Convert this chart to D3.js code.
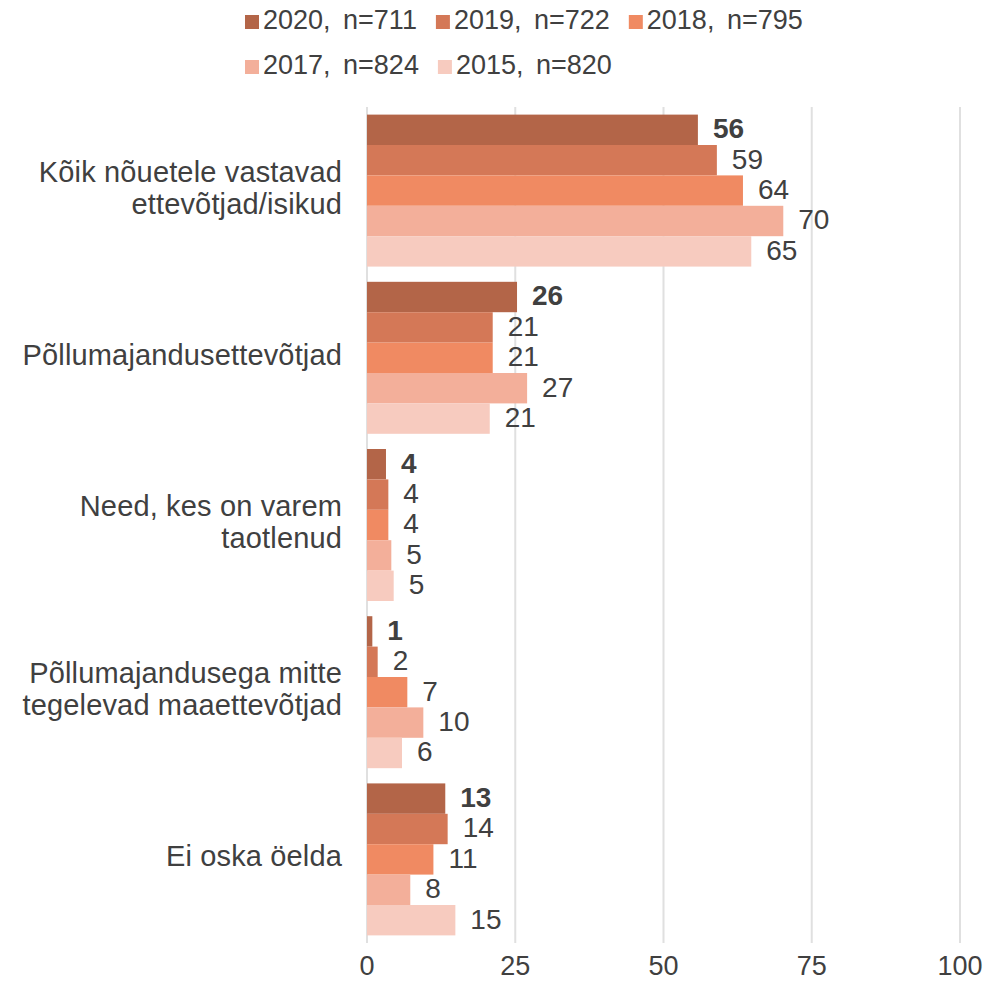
<!DOCTYPE html>
<html>
<head>
<meta charset="utf-8">
<script src="https://cdn.jsdelivr.net/npm/d3@7"></script>
<style>
  body { margin: 0; background: #fff; }
  text { font-family: "Liberation Sans", Arial, Helvetica, sans-serif; fill: #404040; }
</style>
</head>
<body>
<div id="chart"></div>
<script>
// --- data ---
const categories = [
  ["Kõik nõuetele vastavad", "ettevõtjad/isikud"],
  ["Põllumajandusettevõtjad"],
  ["Need, kes on varem", "taotlenud"],
  ["Põllumajandusega mitte", "tegelevad maaettevõtjad"],
  ["Ei oska öelda"]
];
const seriesNames = ["2020, n=711", "2019, n=722", "2018, n=795", "2017, n=824", "2015, n=820"];
const seriesColors = ["#b36548", "#d47857", "#f08a62", "#f3af9a", "#f7cbbf"];

const v2020 = [55.8, 25.3, 3.2, 0.9, 13.2];
const v2019 = [59.0, 21.2, 3.6, 1.8, 13.6];
const v2018 = [63.4, 21.2, 3.6, 6.8, 11.2];
const v2017 = [70.2, 27.0, 4.1, 9.5, 7.3];
const v2015 = [64.8, 20.7, 4.5, 5.9, 14.9];

const l2020 = ["56", "26", "4", "1", "13"];
const l2019 = ["59", "21", "4", "2", "14"];
const l2018 = ["64", "21", "4", "7", "11"];
const l2017 = ["70", "27", "5", "10", "8"];
const l2015 = ["65", "21", "5", "6", "15"];

const xTicks = [0, 25, 50, 75, 100];

const values = [v2020, v2019, v2018, v2017, v2015];
const labels = [l2020, l2019, l2018, l2017, l2015];

// --- setup ---
const width = 1003, height = 981;
const svg = d3.select("#chart").append("svg").attr("width", width).attr("height", height);

const x = d3.scaleLinear().domain([0, 100]).range([367, 960]);
const y = d3.scaleBand().domain(d3.range(categories.length)).range([107, 943])
  .paddingInner(0.091).paddingOuter(0.0455);
const ySub = d3.scaleBand().domain(d3.range(seriesNames.length)).range([0, y.bandwidth()]);

// gridlines
svg.append("g").selectAll("line").data(xTicks).join("line")
  .attr("x1", d => x(d)).attr("x2", d => x(d))
  .attr("y1", 107).attr("y2", 943)
  .attr("stroke", "#e0e0e0").attr("stroke-width", 2);

// bars
const groups = svg.append("g").selectAll("g").data(categories).join("g")
  .attr("transform", (d, i) => `translate(0,${y(i)})`);

groups.each(function(cat, ci) {
  const g = d3.select(this);
  const rows = seriesNames.map((s, si) => ({ si, v: values[si][ci], label: labels[si][ci] }));
  g.selectAll("rect").data(rows).join("rect")
    .attr("x", x(0))
    .attr("y", d => ySub(d.si))
    .attr("width", d => x(d.v) - x(0))
    .attr("height", ySub.bandwidth())
    .attr("fill", d => seriesColors[d.si]);
  g.selectAll("text.val").data(rows).join("text")
    .attr("class", "val")
    .attr("x", d => x(d.v) + 15)
    .attr("y", d => ySub(d.si) + ySub.bandwidth() / 2)
    .attr("dy", "0.3em")
    .style("font-size", "28px")
    .style("font-weight", d => d.si === 0 ? "bold" : "normal")
    .text(d => d.label);
});

// category labels
const catLabels = svg.append("g").selectAll("text").data(categories).join("text")
  .attr("text-anchor", "end")
  .style("font-size", "29px")
  .style("letter-spacing", "0.15px");
catLabels.each(function(lines, i) {
  const cy = y(i) + y.bandwidth() / 2 + 7;
  d3.select(this).selectAll("tspan").data(lines).join("tspan")
    .attr("x", 342)
    .attr("y", (d, j) => cy + (j - (lines.length - 1) / 2) * 32)
    .text(d => d);
});

// x axis labels
svg.append("g").selectAll("text").data(xTicks).join("text")
  .attr("x", d => x(d)).attr("y", 975)
  .attr("text-anchor", "middle")
  .style("font-size", "27px")
  .text(d => d);

// legend (flows left to right, wraps after 3 items)
const legend = svg.append("g");
const rowsLayout = [[0, 1, 2], [3, 4]];
rowsLayout.forEach((row, ri) => {
  let cx = 245;
  const base = 29 + ri * 45;
  row.forEach(si => {
    legend.append("rect")
      .attr("x", cx).attr("y", base - 14)
      .attr("width", 14).attr("height", 14)
      .attr("fill", seriesColors[si]);
    const t = legend.append("text")
      .attr("x", cx + 18).attr("y", base)
      .style("font-size", "27px")
      .style("word-spacing", "5px")
      .text(seriesNames[si]);
    cx += 18 + t.node().getComputedTextLength() + 19;
  });
});
</script>
</body>
</html>
